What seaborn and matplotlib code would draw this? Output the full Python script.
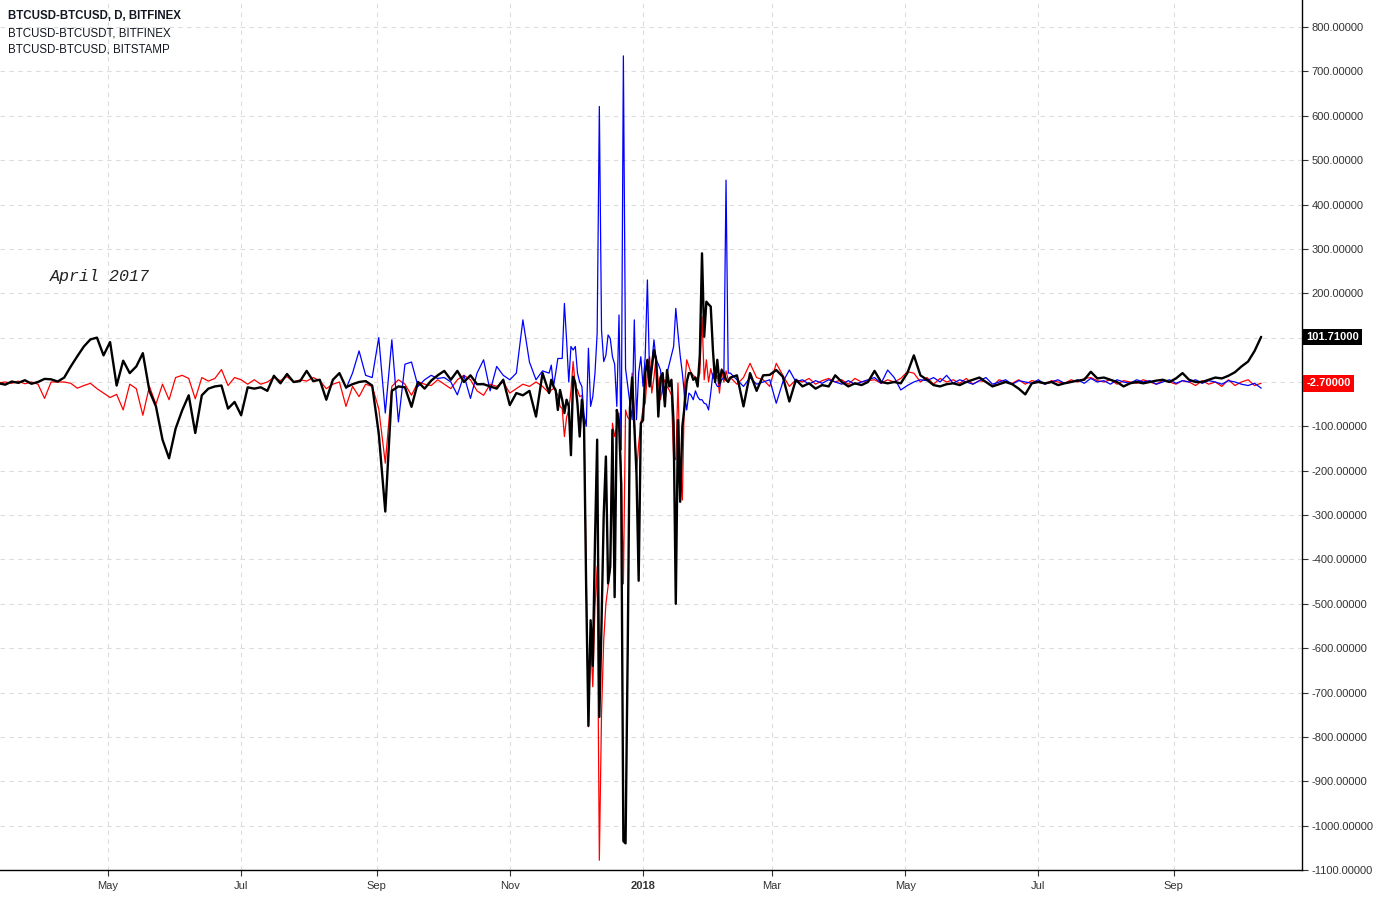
import numpy as np
import pandas as pd
import matplotlib
matplotlib.use("Agg")
import matplotlib.pyplot as plt
import matplotlib.dates as mdates
import matplotlib.transforms as mtransforms
import seaborn as sns

# ---------------- data ----------------
dates_a = pd.date_range("2017-03-12", periods=85, freq="3D")
dates_b = pd.date_range("2017-11-20", periods=83, freq="D")
dates_c = pd.date_range("2018-02-13", periods=81, freq="3D")

bitfinex_usd_a = [-3, -6, 1, -2, 4, -4, 0, 7, 6, 1, 10,
                  35, 58, 80, 96, 100, 60, 90, -8, 48, 20,
                  35, 65, -20, -55, -130, -172, -105, -64, -30, -115,
                  -30, -15, -10, -8, -60, -45, -75, -12, -15, -12,
                  -20, 14, -3, 18, 0, 2, 25, 2, 5, -40,
                  5, 20, -12, -5, 0, 2, -8, -116, -292, -20,
                  -10, -12, -56, 0, -15, 3, 15, 25, 5, 25,
                  0, 15, -5, -5, -10, -15, 5, -52, -25, -30,
                  -20, -78, 20, -25]
bitfinex_usd_b = [5, -10, -18, -63, -18, -40, -70, -40, -55, -165,
                  12, -3, -50, -123, -40, -100, -477, -775, -537, -640,
                  -360, -130, -755, -545, -300, -168, -454, -416, -108, -485,
                  -63, -90, -230, -1035, -1040, -600, -60, 10, -100, -205,
                  -448, -93, -86, 20, 50, -10, 30, 72, 50, -78,
                  10, 20, -55, 27, -10, 5, -93, -500, -86, -270,
                  -100, -56, 0, 20, 20, 5, 10, -10, 60, 290,
                  102, 181, 175, 170, 72, 0, 50, -3, 27, 20,
                  5, 0, 10]
bitfinex_usd_c = [15, -55, 20, -20, 15, 16, 27, 12, -44, 5,
                  -10, -3, -15, -7, -10, 15, 0, -10, -3, -7,
                  0, 25, 0, -3, 0, -3, 20, 60, 15, 5,
                  -7, -10, -5, -3, -7, 0, 5, 10, 0, -10,
                  -5, 0, -5, -15, -28, -3, 0, -3, 0, -7,
                  -3, 0, 3, 5, 23, 8, 10, 5, 0, -10,
                  -3, 0, -3, 0, 3, 5, 0, 8, 20, 5,
                  0, 0, 5, 10, 8, 14, 22, 35, 46, 70,
                  101.71]

bitfinex_usdt_a = [-2, 0, -3, 2, -4, 0, -5, -37, 0, 0, 0,
                   -3, -14, -8, -3, -15, -25, -35, -28, -63, -5,
                   -15, -75, -10, -50, -5, -40, 10, 15, 8, -38,
                   10, 2, 8, 28, -8, 10, 5, -5, 5, -5,
                   0, 10, 3, 12, 0, 5, 2, 10, 3, -15,
                   -5, 0, -55, -10, -33, -5, -10, -60, -183, -10,
                   5, -5, -30, 0, -5, -8, 5, -5, -15, 5,
                   15, 5, -20, -30, -5, -10, 0, -25, -15, -5,
                   -10, 0, -10, -25]
bitfinex_usdt_b = [-18, -15, -20, -30, -55, -60, -123, -80, -63, -20,
                   46, -10, -18, -33, -30, -100, -430, -777, -582, -687,
                   -507, -416, -1078, -747, -582, -500, -460, -416, -93, -123,
                   -100, -70, -190, -455, -63, -80, -85, 20, -80, -205,
                   -140, -93, -60, -48, 20, 57, -25, 10, 57, 0,
                   -40, -10, 5, -10, -18, -30, -168, -175, -3, -200,
                   -266, -10, 50, 35, 20, 15, 10, 5, 20, 147,
                   5, 50, 0, 30, 10, 5, 15, -25, 30, 0,
                   25, 5, 10]
bitfinex_usdt_c = [-5, 10, 42, 10, 5, -10, 42, 15, -10, 5,
                   0, 8, -5, 3, 8, 0, 5, -5, 8, 0,
                   3, 5, -3, 5, 0, 8, 23, 20, 0, 10,
                   -5, 8, 0, 5, -3, 8, -5, 3, 0, -10,
                   5, 0, -3, 5, -5, 3, 0, -5, 3, 0,
                   -3, 5, 0, 8, 10, 3, 0, 5, -5, 3,
                   0, -3, 5, 0, -5, 3, 0, -5, 3, 0,
                   -8, 3, -5, 0, -10, 5, -8, 0, 5, -8,
                   -2.7]

bitstamp_a = [np.nan] * 53 + [-15, 20, 70, 15, 10, 100, -70, 95,
                              -90, 40, 45, -10, 5, 15, 8, 10, 0, -29,
                              15, -37, 20, 50, -20, 35, 15, 5, 20, 140,
                              45, 5, 25, 20]
bitstamp_b = [38, -10, 20, 53, 53, 53, 177, 95, 0, 80,
              72, 80, 20, 0, -10, -75, -100, 76, -55, -33,
              20, 110, 621, 117, 46, 60, 106, 98, 57, 40,
              -55, 151, -153, 735, 30, -10, -48, -85, 140, -85,
              20, 57, -10, 57, 230, 12, 40, 95, 50, 40,
              27, -20, -48, 20, 40, 60, 80, 166, 110, 60,
              20, -30, -63, -25, -30, -40, -20, -33, -40, -40,
              -48, -50, -63, -25, 20, 0, -10, -10, 5, 10,
              455, 20, 20]
bitstamp_c = [5, -10, 10, -5, 0, 5, -48, 0, 27, 0,
              5, -5, 3, -3, 5, 0, -5, 3, -5, 0,
              5, 10, -3, 27, 10, -18, -8, 0, 5, 3,
              10, 0, 15, -3, 5, 0, -5, 3, 10, -5,
              0, 5, -5, 3, 0, -3, 5, -5, 0, 5,
              -3, 0, 5, -3, 8, 0, 3, -5, 5, 0,
              -3, 5, 0, 3, -5, 0, 5, -3, 3, 0,
              5, -3, 3, 0, -5, 3, 0, -5, -8, -3,
              -14]

legend_lines = ["BTCUSD-BTCUSD, D, BITFINEX",
                "BTCUSD-BTCUSDT, BITFINEX",
                "BTCUSD-BTCUSD, BITSTAMP"]
x_tick_dates = ["2017-05-01", "2017-07-01", "2017-09-01", "2017-11-01",
                "2018-01-01", "2018-03-01", "2018-05-01", "2018-07-01", "2018-09-01"]
x_tick_labels = ["May", "Jul", "Sep", "Nov", "2018", "Mar", "May", "Jul", "Sep"]
y_ticks = list(range(-1100, 801, 100))
hidden_y_labels = [100, 0]   # covered by the last-value labels

# ---------------- frame ----------------
dates = dates_a.append(dates_b).append(dates_c)
df = pd.DataFrame({
    "date": dates,
    "bitfinex_usd": bitfinex_usd_a + bitfinex_usd_b + bitfinex_usd_c,
    "bitfinex_usdt": bitfinex_usdt_a + bitfinex_usdt_b + bitfinex_usdt_c,
    "bitstamp": bitstamp_a + bitstamp_b + bitstamp_c,
})

sns.set_theme(style="white")
plt.rcParams["font.family"] = ["Liberation Sans", "DejaVu Sans"]

fig = plt.figure(figsize=(13.75, 8.98), dpi=100)
ax = fig.add_axes([0, 28 / 898, 1302 / 1375, 870 / 898])

sns.lineplot(data=df, x="date", y="bitfinex_usdt", ax=ax, color="#ff0000",
             linewidth=0.9, estimator=None)
sns.lineplot(data=df.dropna(subset=["bitstamp"]), x="date", y="bitstamp", ax=ax,
             color="#0000ff", linewidth=0.9, estimator=None)
sns.lineplot(data=df, x="date", y="bitfinex_usd", ax=ax, color="#000000",
             linewidth=1.7, estimator=None)

t0 = pd.Timestamp("2018-01-01") - pd.Timedelta(days=294.4)
t1 = pd.Timestamp("2018-01-01") + pd.Timedelta(days=301.7)
ax.set_xlim(t0, t1)
ax.set_ylim(-1100, 861)

ax.set_xlabel("")
ax.set_ylabel("")

ax.yaxis.tick_right()
ax.set_yticks(y_ticks)
ax.set_yticklabels(["" if v in hidden_y_labels else f"{v:.5f}" for v in y_ticks])
ax.set_xticks(pd.to_datetime(x_tick_dates))
ax.set_xticklabels(x_tick_labels)
for lbl in ax.get_xticklabels():
    if lbl.get_text() == "2018":
        lbl.set_fontweight("bold")

ax.tick_params(axis="y", which="both", right=True, left=False, length=4, width=0.8,
               color="#333333", labelsize=8, labelcolor="#333333", pad=3)
ax.tick_params(axis="x", which="both", bottom=True, length=4, width=0.8,
               color="#333333", labelsize=8, labelcolor="#333333", pad=4)

ax.grid(True, color="#dcdcdc", linestyle=(0, (4, 4)), linewidth=0.8)
for s in ["top", "left"]:
    ax.spines[s].set_visible(False)
for s in ["right", "bottom"]:
    ax.spines[s].set_visible(True)
    ax.spines[s].set_color("#000000")
    ax.spines[s].set_linewidth(1.0)

# last-value price labels on the axis
trans = mtransforms.blended_transform_factory(ax.transAxes, ax.transData)
ax.annotate("101.71000", xy=(1.0, bitfinex_usd_c[-1]), xycoords=trans,
            xytext=(3, 0), textcoords="offset points", ha="left", va="center",
            fontsize=8, fontweight="bold", color="white", annotation_clip=False,
            bbox=dict(boxstyle="square,pad=0.3", fc="black", ec="none"))
ax.annotate("-2.70000", xy=(1.0, bitfinex_usdt_c[-1]), xycoords=trans,
            xytext=(3, 0), textcoords="offset points", ha="left", va="center",
            fontsize=8, fontweight="bold", color="white", annotation_clip=False,
            bbox=dict(boxstyle="square,pad=0.3", fc="#ff0000", ec="none"))

# series titles
for i, t in enumerate(legend_lines):
    fig.text(8 / 1375, 1 - (16 + 17 * i) / 898, t, ha="left", va="center",
             fontsize=8.3, fontweight="bold" if i == 0 else "normal", color="#131722")

fig.text(50 / 1375, 1 - 276 / 898, "April 2017", ha="left", va="center",
         family=["Liberation Mono", "DejaVu Sans Mono"], style="italic",
         fontsize=12, color="#222222")

fig.savefig("out.png", dpi=100, facecolor="white")
